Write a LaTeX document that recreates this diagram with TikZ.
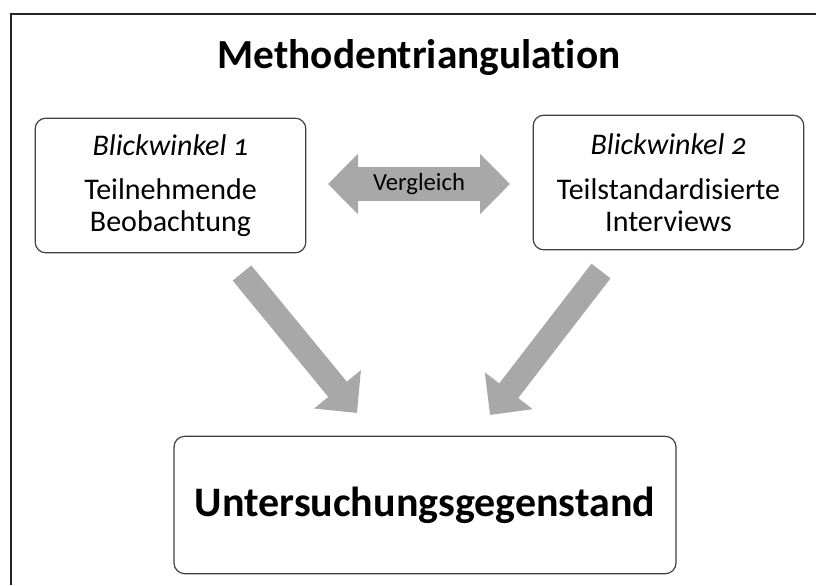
\documentclass[tikz,border=0pt]{standalone}
\usepackage{fontspec}
\setmainfont[Ligatures=NoCommon]{Carlito}
\usetikzlibrary{arrows.meta}
\definecolor{arrowgray}{HTML}{A8A8A8}
\definecolor{boxline}{HTML}{404040}
\begin{document}
\begin{tikzpicture}[x=0.75pt,y=-0.75pt,
  box/.style={draw=boxline, line width=0.9pt, rounded corners=8pt, fill=white, align=center, inner sep=0pt},
  bodytext/.style={font=\fontsize{22.5pt}{24pt}\selectfont},
  fatarrow/.style={draw=arrowgray, line width=18pt, -{Triangle[length=23pt,width=44pt]}},
  dblarrow/.style={draw=arrowgray, line width=26pt, {Triangle[length=22.5pt,width=44pt]}-{Triangle[length=22.5pt,width=44pt]}}]
\path[use as bounding box] (0,0) rectangle (816,585);
\draw[line width=1.6pt, black!85] (816,14) -- (11,14) -- (11,585);

\node[font=\fontsize{31pt}{36pt}\selectfont\bfseries] (title) at (419,58) {Methodentriangulation};

\node[box, bodytext, minimum width=203pt, minimum height=101pt] (b1) at (170.5,185.5)
  {\textit{Blickwinkel \addfontfeatures{Numbers=OldStyle}1}\\[9.5pt] Teilnehmende\\ Beobachtung};
\node[box, bodytext, minimum width=203pt, minimum height=101pt] (b2) at (668.5,182.5)
  {\textit{Blickwinkel \addfontfeatures{Numbers=OldStyle}2}\\[9.5pt] Teilstandardisierte\\ Interviews};
\node[box, minimum width=376.5pt, minimum height=103pt, font=\fontsize{31.5pt}{36pt}\selectfont\bfseries] (b3) at (425,505)
  {Untersuchungsgegenstand};

\coordinate (vl) at (328,184);
\coordinate (vr) at (510,184);
\draw[dblarrow] (vl) -- (vr);
\node[font=\fontsize{18.5pt}{20pt}\selectfont] (vg) at (419,184) {Vergleich};

\coordinate (a1s) at (242,273);
\coordinate (a1e) at (357,413);
\draw[fatarrow] (a1s) -- (a1e);
\coordinate (a2s) at (601,271);
\coordinate (a2e) at (490,415);
\draw[fatarrow] (a2s) -- (a2e);
\end{tikzpicture}
\end{document}
